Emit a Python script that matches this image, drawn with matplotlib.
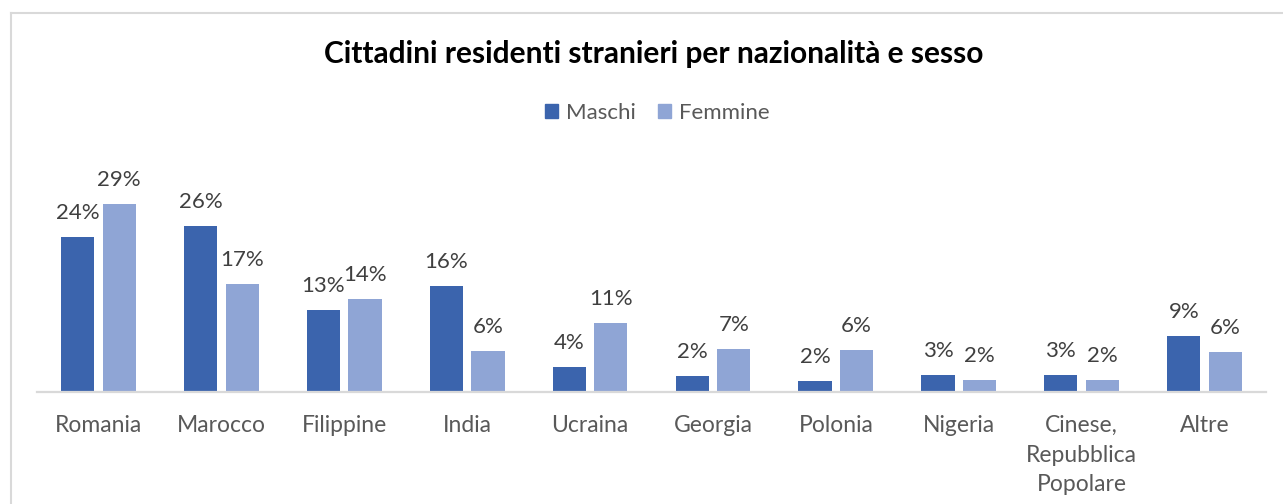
import numpy as np
import matplotlib.pyplot as plt
from matplotlib.lines import Line2D
from matplotlib.patches import Rectangle

plt.rcParams['font.family'] = ['Lato', 'DejaVu Sans']

categories = ['Romania', 'Marocco', 'Filippine', 'India', 'Ucraina', 'Georgia',
              'Polonia', 'Nigeria', 'Cinese,\nRepubblica\nPopolare', 'Altre']
maschi = [24.0, 25.7, 12.6, 16.3, 3.8, 2.4, 1.6, 2.6, 2.6, 8.6]
femmine = [29.1, 16.6, 14.4, 6.3, 10.6, 6.6, 6.4, 1.8, 1.8, 6.1]

c_m = '#3b64ad'
c_f = '#8fa5d5'
txt = '#404040'

fig = plt.figure(figsize=(12.83, 5.04), dpi=100)
ax = fig.add_axes([37 / 1283, 112.5 / 504, 1229 / 1283, 35 * 6.45 / 504])

x = np.arange(len(categories))
w = 0.27
off = 0.169
b1 = ax.bar(x - off, maschi, w, color=c_m, label='Maschi')
b2 = ax.bar(x + off, femmine, w, color=c_f, label='Femmine')

for bars, vals in ((b1, maschi), (b2, femmine)):
    for b, v in zip(bars, vals):
        ax.annotate('%d%%' % int(v + 0.5), (b.get_x() + b.get_width() / 2, v),
                    xytext=(0, 14), textcoords='offset pixels',
                    ha='center', va='bottom', fontsize=16, color=txt)

ax.set_xlim(-0.5, len(categories) - 0.5)
ax.set_ylim(0, 35)
ax.set_yticks([])
for s in ['top', 'right', 'left']:
    ax.spines[s].set_visible(False)
ax.spines['bottom'].set_color('#d9d9d9')
ax.spines['bottom'].set_linewidth(1.6)
ax.set_xticks(x)
ax.set_xticklabels(categories, fontsize=16.5, color='#595959', linespacing=1.5)
ax.tick_params(axis='x', length=0, pad=17)

fig.text(0.5098, 1 - 54 / 504, 'Cittadini residenti stranieri per nazionalità e sesso',
         ha='center', va='center', fontsize=21.5, fontweight='bold', color='black')

handles = [Rectangle((0, 0), 1, 1, color=c_m), Rectangle((0, 0), 1, 1, color=c_f)]
fig.legend(handles, ['Maschi', 'Femmine'], loc='center', bbox_to_anchor=(657 / 1283, 1 - 113 / 504),
           ncol=2, frameon=False, fontsize=16, labelcolor='#595959',
           handlelength=0.6, handleheight=0.6, handletextpad=0.35, columnspacing=1.0)

# chart frame
fig.add_artist(Line2D([10.5 / 1283, 10.5 / 1283], [0, 1 - 12.5 / 504], color='#d9d9d9', lw=1.5))
fig.add_artist(Line2D([10.5 / 1283, 1], [1 - 12.5 / 504, 1 - 12.5 / 504], color='#d9d9d9', lw=1.5))

fig.savefig('out.png', dpi=100)
